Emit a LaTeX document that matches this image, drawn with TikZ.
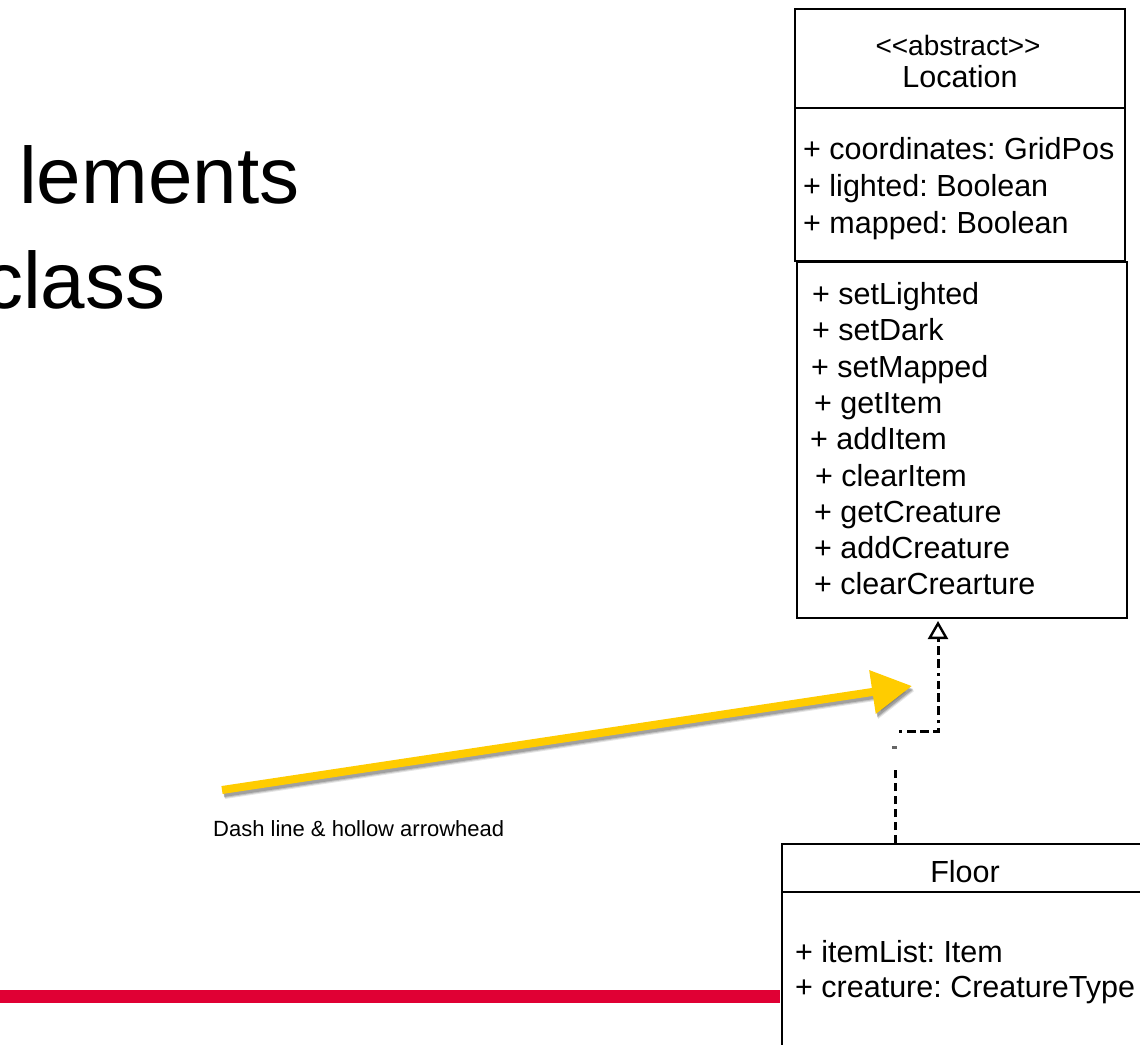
\documentclass[tikz,border=0pt]{standalone}
\usepackage{fontspec}
\setmainfont{Liberation Sans}
\usetikzlibrary{arrows.meta}
\definecolor{barred}{RGB}{224,0,52}
\definecolor{calloutyellow}{RGB}{255,204,0}
\tikzset{
  umlbox/.style={draw=black, line width=1.6pt, fill=white, inner sep=0pt, anchor=north west},
  umltext/.style={font=\fontsize{30.5}{36}\selectfont, inner sep=0pt},
  member/.style={umltext, anchor=base west},
  realize/.style={draw=black, line width=3pt, dash pattern=on 8pt off 5pt},
  callout/.style={draw=calloutyellow, line width=8pt,
    -{Triangle[length=40pt,width=42pt]}},
  headline/.style={font=\fontsize{80}{96}\selectfont, inner sep=0pt, anchor=base west},
}
\frenchspacing
\begin{document}
\begin{tikzpicture}[x=1pt,y=-1pt]
\clip (0,0) rectangle (1140,1044);
\fill[white] (0,0) rectangle (1140,1044);

% slide heading, running off the left edge
\node[headline] (h1) at (19,203) {lements};
\node[headline] (h2) at (-17,308) {class};

% red rule along the bottom
\fill[barred] (0,990) rectangle (780,1003);

% abstract class Location: name and attributes
\node[umlbox, minimum width=330pt, minimum height=252pt] (loc) at (794,8) {};
\draw[line width=1.6pt] (794,108) -- (1124,108);
\node[umltext, font=\fontsize{28}{34}\selectfont] (stereo) at (958,45) {<{}<abstract>{}>};
\node[umltext] (locname) at (960,77) {Location};
\node[member] (a1) at (803,159) {+ coordinates: GridPos};
\node[member] (a2) at (803,196) {+ lighted: Boolean};
\node[member] (a3) at (803,233) {+ mapped: Boolean};

% Location operations
\node[umlbox, minimum width=330pt, minimum height=356pt] (ops) at (796,261) {};
\node[member] (o1) at (812,304) {+ setLighted};
\node[member] (o2) at (812,340) {+ setDark};
\node[member] (o3) at (811,377) {+ setMapped};
\node[member] (o4) at (814,413) {+ getItem};
\node[member] (o5) at (810,449) {+ addItem};
\node[member] (o6) at (815,486) {+ clearItem};
\node[member] (o7) at (814,522) {+ getCreature};
\node[member] (o8) at (814,558) {+ addCreature};
\node[member] (o9) at (814,594) {+ clearCrearture};

% class Floor
\node[umlbox, minimum width=380pt, minimum height=230pt] (floor) at (781,843) {};
\draw[line width=1.6pt] (781,892) -- (1160,892);
\node[umltext] (floorname) at (965,872) {Floor};
\node[member] (f1) at (795,962) {+ itemList: Item};
\node[member] (f2) at (795,997) {+ creature: CreatureType};

% realization: Floor implements Location
\coordinate (r0) at (895,843);
\coordinate (r1) at (895,766);
\coordinate (r2) at (899,731);
\coordinate (r3) at (938,731);
\coordinate (r4) at (938,621);
\draw[realize] (r0) -- (r1);
\fill[black!60] (892,745.5) rectangle (896.5,749);
\draw[realize, dash pattern=on 3pt off 5pt on 9pt off 4pt on 9pt off 4pt on 8pt off 5pt,
  -{Triangle[open,length=18pt,width=20pt,line width=2.4pt,fill=white]}]
  (r2) -- (r3) -- (r4);

% yellow callout arrow with soft shadow
\coordinate (c0) at (222,790);
\coordinate (c1) at (912,686);
\foreach \d/\o in {5/0.10,4/0.14,3/0.18} {
  \draw[draw=black, opacity=\o, line width=8pt,
    -{Triangle[length=40pt,width=42pt]}]
    ([shift={(\d*0.5,\d)}]c0) -- ([shift={(\d*0.5,\d)}]c1);
}
\draw[callout] (c0) -- (c1);
\node[font=\fontsize{22}{27}\selectfont, inner sep=0pt, anchor=base west] (note) at (213,836)
  {Dash line \& hollow arrowhead};
\end{tikzpicture}
\end{document}
